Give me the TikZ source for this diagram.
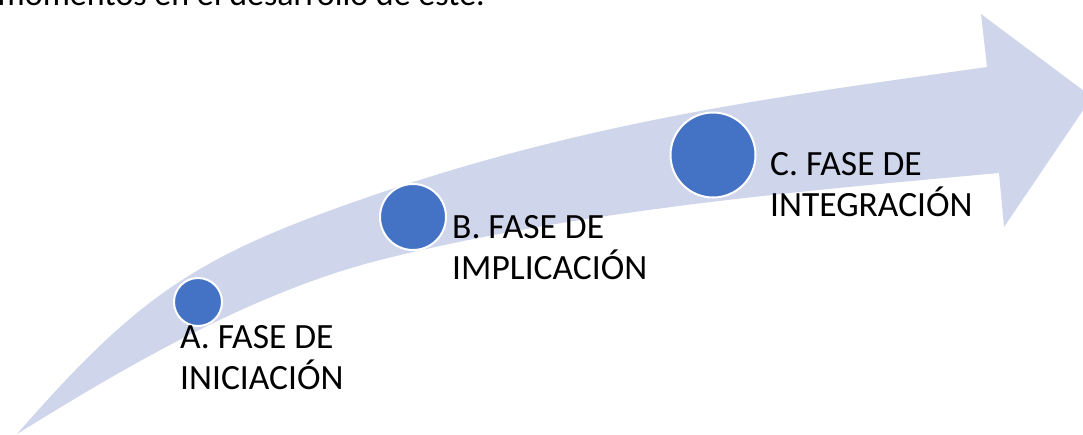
\documentclass[tikz,border=0pt]{standalone}
\usepackage{fontspec}
\setmainfont{Carlito}
\definecolor{bandcol}{HTML}{CFD5EA}
\definecolor{dotcol}{HTML}{4472C4}
\begin{document}
\begin{tikzpicture}[x=1pt,y=-1pt,
  dot/.style={circle,fill=dotcol,draw=white,line width=2pt,inner sep=0},
  lbl/.style={anchor=base west,inner sep=0,font=\fontsize{35.5}{40}\selectfont},
  toptext/.style={anchor=base east,inner sep=0,font=\fontsize{34}{40}\selectfont}]
\useasboundingbox (0,0) rectangle (1083,434);
\clip (0,0) rectangle (1083,434);
% curved arrow band
\fill[bandcol] (17,434)
  .. controls (142,291) and (200,254) .. (380,193)
  .. controls (598,119) and (789,95) .. (987,67)
  -- (981,14) -- (1092,97) -- (1004,227) -- (999,173)
  .. controls (800,191) and (574,211) .. (380,260)
  .. controls (254,292) and (128,365) .. (17,434)
  -- cycle;
% cut-off text at top
\node[toptext] (top) at (485,5) {momentos en el desarrollo de este.};
% circles
\node[dot,minimum size=48pt] (ca) at (198,302) {};
\node[dot,minimum size=66pt] (cb) at (413,217) {};
\node[dot,minimum size=85pt] (cc) at (713,155) {};
% labels
\node[lbl] (la) at (180,348) {\begin{tabular}[t]{@{}l@{}}A. FASE DE\\INICIACIÓN\end{tabular}};
\node[lbl] (lb) at (452,238) {\begin{tabular}[t]{@{}l@{}}B. FASE DE\\IMPLICACIÓN\end{tabular}};
\node[lbl] (lc) at (770,175) {\begin{tabular}[t]{@{}l@{}}C. FASE DE\\INTEGRACIÓN\end{tabular}};
\end{tikzpicture}
\end{document}
